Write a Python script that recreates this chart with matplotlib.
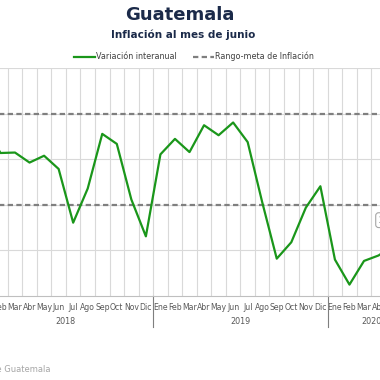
import matplotlib
matplotlib.use("Agg")
import matplotlib.pyplot as plt
from matplotlib.lines import Line2D
from matplotlib.transforms import blended_transform_factory

# datos (variacion interanual, %)
meses = ['Ene', 'Feb', 'Mar', 'Abr', 'May', 'Jun', 'Jul', 'Ago', 'Sep', 'Oct', 'Nov', 'Dic']
anios = ['2018', '2019', '2020']
inf_2018 = [4.71, 4.14, 4.15, 3.93, 4.08, 3.79, 2.61, 3.36, 4.56, 4.34, 3.12, 2.31]
inf_2019 = [4.11, 4.45, 4.16, 4.75, 4.53, 4.81, 4.38, 3.06, 1.82, 2.18, 2.94, 3.41]
inf_2020 = [1.80, 1.25, 1.77, 1.89, 2.10, 2.38]
meta_inf = 3.0
meta_sup = 5.0

valores = inf_2018 + inf_2019 + inf_2020
etiquetas = meses + meses + meses[:len(inf_2020)]
x = list(range(len(valores)))

W = H = 380
fig = plt.figure(figsize=(3.8, 3.8), dpi=100)

# el area de grafico sobresale del recorte por ambos lados
x0_px, x1_px = -21.35, 414.9
top_px, bot_px = 68.3, 296.0
ax = fig.add_axes([x0_px / W, 1 - bot_px / H, (x1_px - x0_px) / W, (bot_px - top_px) / H])

ax.set_xlim(-0.5, len(valores) - 0.5)
ax.set_ylim(1, 6)

for xb in [i + 0.5 for i in range(len(valores) - 1)]:
    ax.axvline(xb, color='#d9d9d9', lw=0.8, zorder=0)
for yv in range(2, 7):
    ax.axhline(yv, color='#d9d9d9', lw=0.8, zorder=0)

guion = (0, (2.4, 1.5))
ax.axhline(meta_sup, color='#7f7f7f', lw=1.6, ls=guion, zorder=1)
ax.axhline(meta_inf, color='#7f7f7f', lw=1.6, ls=guion, zorder=1)
ax.plot(x, valores, color='#1a961a', lw=1.6, zorder=3)

# etiqueta del ultimo dato (casi fuera del recorte)
ax.annotate(f'{valores[-1]:.2f}%', xy=(x[-1], valores[-1]), xytext=(-29, 13),
            textcoords='offset pixels', ha='left', va='center', fontsize=6,
            color='#404040',
            bbox=dict(boxstyle='round,pad=0.35', fc='white', ec='#a6a6a6', lw=0.8),
            annotation_clip=False)

for s in ['top', 'left', 'right']:
    ax.spines[s].set_visible(False)
ax.spines['bottom'].set_color('#bfbfbf')
ax.spines['bottom'].set_linewidth(0.8)
ax.set_yticks([])
ax.set_xticks(x)
ax.set_xticklabels(etiquetas, fontsize=5.6, color='#595959')
ax.tick_params(axis='x', length=0, pad=5)

# segundo nivel: anios y separadores
trans = blended_transform_factory(ax.transData, ax.transAxes)
sep_y = -(327 - bot_px) / (bot_px - top_px)
ano_y = -(321.7 - bot_px) / (bot_px - top_px)
inicio = 0
for ano, n in zip(anios, [len(inf_2018), len(inf_2019), len(inf_2020)]):
    centro = inicio + (n - 1) / 2
    ax.text(centro, ano_y, ano, transform=trans, ha='center', va='center',
            fontsize=5.8, color='#595959')
    if inicio > 0:
        ax.plot([inicio - 0.5, inicio - 0.5], [0, sep_y], transform=trans,
                color='#7f7f7f', lw=0.8, clip_on=False)
    inicio += n

fig.text(180 / W, 1 - 15 / H, 'Guatemala', ha='center', va='center',
         fontsize=13, fontweight='bold', color='#1b2a49')
fig.text(183 / W, 1 - 34.3 / H, 'Inflación al mes de junio', ha='center', va='center',
         fontsize=7.5, fontweight='bold', color='#1b2a49')

handles = [Line2D([], [], color='#1a961a', lw=1.6),
           Line2D([], [], color='#7f7f7f', lw=1.6, ls=guion)]
fig.legend(handles, ['Variación interanual', 'Rango-meta de Inflación'],
           loc='center', bbox_to_anchor=(194 / W, 1 - 56.7 / H), ncol=2,
           frameon=False, fontsize=5.8, handlelength=2.6, handletextpad=0.1,
           columnspacing=2.0, labelcolor='#404040')

fig.text(50 / W, 1 - 369 / H, 'Fuente: Banco de Guatemala', ha='right', va='center',
         fontsize=6, color='#a6a6a6')

fig.savefig('out.png', dpi=100)
